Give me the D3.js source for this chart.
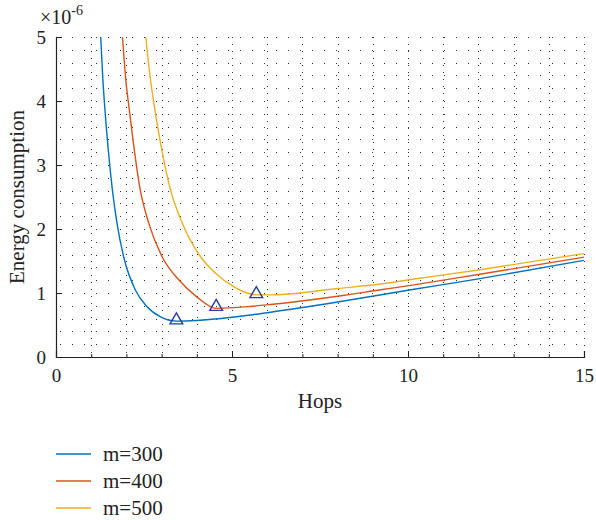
<!DOCTYPE html>
<html>
<head>
<meta charset="utf-8">
<script src="https://cdn.jsdelivr.net/npm/d3@7"></script>
<style>
  body { margin: 0; background: #fff; }
  svg text { font-family: "Liberation Serif", "DejaVu Serif", serif; fill: #222; }
</style>
</head>
<body>
<svg width="596" height="520"></svg>
<script>
// data (values x1e-6)
const hops300 = [1.27, 1.33, 1.395, 1.5, 1.6, 1.73, 1.92, 2.25, 2.58, 2.96, 3.42, 4.0, 5.0, 6.09, 8.0, 10.08, 12.0, 15.0];
const energy300 = [5.0, 4.35, 3.83, 3.15, 2.62, 2.10, 1.57, 1.05, 0.79, 0.63, 0.56, 0.57, 0.62, 0.70, 0.86, 1.05, 1.22, 1.51];
const hops400 = [1.888, 1.98, 2.09, 2.39, 2.63, 3.01, 3.48, 4.0, 4.55, 5.52, 6.09, 8.0, 9.22, 10.08, 12.0, 15.0];
const energy400 = [5.0, 4.35, 3.83, 2.62, 2.10, 1.57, 1.21, 0.94, 0.76, 0.79, 0.82, 0.95, 1.05, 1.12, 1.29, 1.56];
const hops500 = [2.55, 2.68, 2.82, 3.25, 3.58, 4.10, 4.53, 5.05, 5.43, 5.69, 6.09, 8.0, 9.22, 10.08, 12.0, 15.0];
const energy500 = [5.0, 4.35, 3.83, 2.62, 2.10, 1.57, 1.31, 1.10, 1.00, 0.97, 0.97, 1.07, 1.14, 1.21, 1.36, 1.615];
const seriesNames = ['m=300', 'm=400', 'm=500'];
const seriesColors = ['#0072BD', '#D95319', '#EDB120'];
// optimal hops (triangle markers)
const optHops = [3.42, 4.55, 5.69];
const optEnergy = [0.56, 0.77, 0.97];
const xTicks = [0, 5, 10, 15];
const yTicks = [0, 1, 2, 3, 4, 5];

const svg = d3.select('svg');
const pLeft = 56, pRight = 584, pTop = 37, pBottom = 357;
const x = d3.scaleLinear().domain([0, 15]).range([pLeft, pRight]);
const y = d3.scaleLinear().domain([0, 5]).range([pBottom, pTop]);

svg.append('defs').append('clipPath').attr('id', 'clip')
  .append('rect').attr('x', pLeft).attr('y', pTop).attr('width', pRight - pLeft).attr('height', pBottom - pTop);

// dotted minor grid
const grid = svg.append('g').attr('class', 'grid');
grid.selectAll('line.h').data(d3.range(1, 26).map(i => i * 0.2))
  .enter().append('line').attr('class', 'h')
  .attr('x1', pLeft + 4).attr('x2', pRight)
  .attr('y1', d => Math.round(y(d)) + 0.5).attr('y2', d => Math.round(y(d)) + 0.5)
  .style('stroke', '#333').style('stroke-width', 1).style('stroke-dasharray', '1,11');
grid.selectAll('line.v').data(d3.range(1, 16))
  .enter().append('line').attr('class', 'v')
  .attr('x1', d => Math.round(x(d)) + 0.5).attr('x2', d => Math.round(x(d)) + 0.5)
  .attr('y1', pTop).attr('y2', pBottom - 3)
  .style('stroke', '#333').style('stroke-width', 1).style('stroke-dasharray', '1,6');

// curves
const data = [
  d3.zip(hops300, energy300),
  d3.zip(hops400, energy400),
  d3.zip(hops500, energy500)
];
const line = d3.line().x(d => x(d[0])).y(d => y(d[1])).curve(d3.curveMonotoneX);
svg.append('g').attr('clip-path', 'url(#clip)')
  .selectAll('path').data(data).enter().append('path')
  .attr('d', line)
  .style('fill', 'none')
  .style('stroke', (d, i) => seriesColors[i])
  .style('stroke-width', 1.4);

// triangle markers
const tri = d3.symbol().type(d3.symbolTriangle).size(70);
svg.append('g').selectAll('path').data(d3.zip(optHops, optEnergy)).enter().append('path')
  .attr('d', tri)
  .attr('transform', d => `translate(${x(d[0])},${y(d[1]) - 1})`)
  .style('fill', 'none').style('stroke', '#2E3A9E').style('stroke-width', 1.4);

// axes
svg.append('g').attr('transform', `translate(0,${pBottom})`)
  .call(d3.axisBottom(x).tickValues(xTicks).tickSize(-6).tickPadding(12).tickFormat(d3.format('d')));
svg.append('g').attr('transform', `translate(0,${pBottom})`)
  .call(d3.axisBottom(x).tickValues(d3.range(1, 15)).tickSize(-3).tickFormat(''))
  .call(g => g.select('.domain').remove());
svg.append('g').attr('transform', `translate(${pLeft},0)`)
  .call(d3.axisLeft(y).tickValues(yTicks).tickSize(-6).tickPadding(10).tickFormat(d3.format('d')));
svg.selectAll('.domain').style('stroke', '#222').style('stroke-width', 1.2);
svg.selectAll('.tick line').style('stroke', '#222');
svg.selectAll('.tick text').style('font-size', '19px').style('font-family', '"Liberation Serif", serif').style('fill', '#222');

// labels
svg.append('text').attr('x', x(7.5)).attr('y', 408).attr('text-anchor', 'middle')
  .style('font-size', '21px').text('Hops');
svg.append('text').attr('transform', `translate(24,${y(2.5)}) rotate(-90)`).attr('text-anchor', 'middle')
  .style('font-size', '21px').text('Energy consumption');
const exp = svg.append('text').attr('x', 40).attr('y', 24).style('font-size', '20px');
exp.append('tspan').text('×10');
exp.append('tspan').attr('dy', -9).style('font-size', '14px').text('-6');

// legend
const legend = svg.append('g').selectAll('g').data(seriesNames).enter().append('g')
  .attr('transform', (d, i) => `translate(56,${454 + i * 27})`);
legend.append('line').attr('x1', 0).attr('x2', 35).attr('y1', 0).attr('y2', 0)
  .style('stroke', (d, i) => seriesColors[i]).style('stroke-width', 1.5);
legend.append('text').attr('x', 47).attr('y', 0).attr('dy', '0.35em')
  .style('font-size', '21px').text(d => d);
</script>
</body>
</html>
